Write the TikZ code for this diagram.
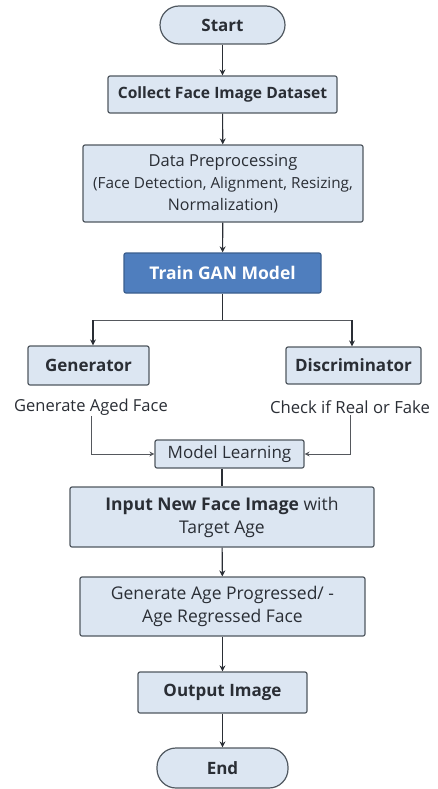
\documentclass[tikz,border=0pt]{standalone}
\usepackage{fontspec}
\setmainfont{Open Sans}
\usetikzlibrary{arrows.meta}
\definecolor{boxfill}{HTML}{DCE6F2}
\definecolor{boxline}{HTML}{505860}
\definecolor{darkfill}{HTML}{4F7EBE}
\definecolor{darkline}{HTML}{3A5E8E}
\definecolor{txt}{HTML}{2A2E35}
\tikzset{
  box/.style={draw=boxline, fill=boxfill, line width=1.2pt, rounded corners=2pt, align=center, text=txt, inner sep=2pt},
  term/.style={box, rounded corners=19pt},
  darkbox/.style={box, draw=darkline, fill=darkfill, text=white},
  lbl/.style={text=txt, inner sep=1pt},
  arr/.style={draw=txt, line width=1.1pt, -{Stealth[length=6pt,width=6pt]}},
  ln/.style={draw=txt, line width=1.1pt},
  thinln/.style={draw=txt!80, line width=0.9pt},
  thinarr/.style={thinln, -{Stealth[length=5pt,width=5pt]}}
}
\begin{document}
\begin{tikzpicture}[x=1pt,y=-1pt]
\useasboundingbox (0,0) rectangle (437,789);
\node[term, minimum width=125pt, minimum height=38pt, font=\fontsize{17}{20}\selectfont\bfseries] (start) at (222.5,25) {Start};
\node[box, minimum width=229pt, minimum height=37pt, font=\fontsize{15.6}{18}\selectfont\bfseries] (collect) at (222.5,94.5) {Collect Face Image Dataset};
\node[box, minimum width=280pt, minimum height=77pt, font=\fontsize{15.3}{22}\selectfont] (prep) at (223,183.5) {{\fontsize{16.5}{22}\selectfont Data Preprocessing}\\(Face Detection, Alignment, Resizing,\\{\fontsize{16}{22}\selectfont Normalization)}};
\node[darkbox, minimum width=197pt, minimum height=40pt, font=\fontsize{17.5}{20}\selectfont\bfseries] (train) at (222.5,273) {Train GAN Model};
\node[box, minimum width=121pt, minimum height=39pt, font=\fontsize{17}{20}\selectfont\bfseries] (gen) at (88.5,365.5) {Generator};
\node[box, minimum width=135pt, minimum height=37pt, font=\fontsize{17}{20}\selectfont\bfseries] (disc) at (353.5,365.5) {Discriminator};
\node[lbl, font=\fontsize{16.5}{20}\selectfont] (gentext) at (91,407) {Generate Aged Face};
\node[lbl, font=\fontsize{16.7}{20}\selectfont] (disctext) at (350,407) {Check if Real or Fake};
\node[box, minimum width=149pt, minimum height=28pt, font=\fontsize{17}{20}\selectfont] (ml) at (229.5,454) {Model Learning};
\node[box, minimum width=304pt, minimum height=60pt, font=\fontsize{17.5}{23}\selectfont] (input) at (222,517) {\textbf{Input New Face Image} with\\Target Age};
\node[box, minimum width=285pt, minimum height=59pt, font=\fontsize{17.5}{23}\selectfont] (generate) at (222.5,606.5) {Generate Age Progressed/ -\\Age Regressed Face};
\node[box, minimum width=169pt, minimum height=41pt, font=\fontsize{17}{20}\selectfont\bfseries] (output) at (222.5,692.5) {Output Image};
\node[term, minimum width=131pt, minimum height=40pt, font=\fontsize{17}{20}\selectfont\bfseries] (end) at (222.5,768) {End};

\draw[arr] (start) -- (collect);
\draw[arr] (collect) -- (prep);
\draw[arr] (prep) -- (train);
\coordinate (split) at (222.5,320);
\coordinate (splitL) at (93,320);
\coordinate (splitR) at (352,320);
\draw[ln] (train) -- (split);
\draw[thinln] (splitL) -- (splitR);
\draw[arr] (splitL) -- (splitL |- gen.north);
\draw[arr] (splitR) -- (splitR |- disc.north);
\draw[thinarr] (gentext.south) |- (ml.west);
\draw[thinarr] (disctext.south) |- (ml.east);
\draw[ln] (ml.south -| input.north) -- (input.north);
\draw[arr] (input) -- (generate);
\draw[arr] (generate) -- (output);
\draw[arr] (output) -- (end);
\end{tikzpicture}
\end{document}
